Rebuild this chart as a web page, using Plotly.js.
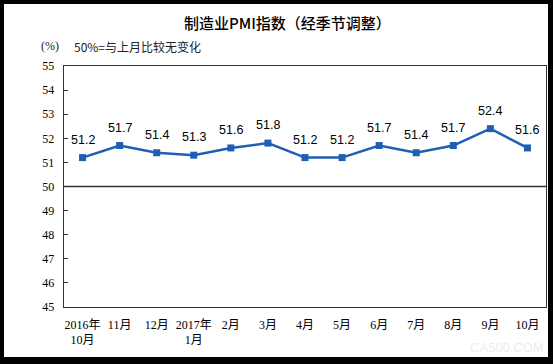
<!DOCTYPE html>
<html>
<head>
<meta charset="utf-8">
<script src="https://cdn.plot.ly/plotly-3.0.1.min.js"></script>
<style>
html,body{margin:0;padding:0;background:#000;width:553px;height:364px;overflow:hidden;}
#chart{position:absolute;left:4px;top:4px;width:544px;height:353px;background:#fff;}
</style>
</head>
<body>
<div id="chart"></div>
<script>
const categories = ["2016年<br>10月","11月","12月","2017年<br>1月","2月","3月","4月","5月","6月","7月","8月","9月","10月"];
const pmiValues = [51.2, 51.7, 51.4, 51.3, 51.6, 51.8, 51.2, 51.2, 51.7, 51.4, 51.7, 52.4, 51.6];
const yTickValues = [45, 46, 47, 48, 49, 50, 51, 52, 53, 54, 55];
const chartTitle = "制造业PMI指数（经季节调整）";
const unitLabel = "(%)";
const noteText = "50%=与上月比较无变化";

const blue = "#1f5fb3";
const serif = "Liberation Serif, 'Times New Roman', 'Noto Sans CJK SC', serif";

const trace = {
  type: "scatter",
  mode: "lines+markers",
  x: categories,
  y: pmiValues,
  line: {color: blue, width: 2.5},
  marker: {color: blue, size: 7, symbol: "square"},
  hoverinfo: "skip"
};

const labelAnnotations = categories.map((c, i) => ({
  x: c, y: pmiValues[i], xref: "x", yref: "y",
  text: pmiValues[i].toFixed(1),
  showarrow: false, yshift: 18,
  font: {family: "Liberation Sans, Arial, sans-serif", size: 12.5, color: "#000"}
}));

const layout = {
  width: 544, height: 353,
  margin: {l: 60, r: 2, t: 62, b: 50},
  paper_bgcolor: "#fff",
  plot_bgcolor: "#fff",
  showlegend: false,
  xaxis: {
    type: "category",
    range: [-0.5, categories.length - 0.5],
    showgrid: false, zeroline: false,
    showline: true, mirror: true, linecolor: "#333", linewidth: 1.3,
    ticks: "",
    tickfont: {family: serif, size: 12, color: "#000"},
    ticklabelstandoff: 6
  },
  yaxis: {
    range: [45, 55],
    tickvals: yTickValues,
    showgrid: false, zeroline: false,
    showline: true, mirror: true, linecolor: "#333", linewidth: 1.3,
    ticks: "inside", ticklen: 4, tickcolor: "#333",
    tickfont: {family: serif, size: 12, color: "#000"},
    ticklabelstandoff: 6
  },
  shapes: [{
    type: "line", xref: "paper", yref: "y", x0: 0, x1: 1, y0: 50, y1: 50,
    line: {color: "#333", width: 1.3}
  }],
  annotations: labelAnnotations.concat([
    {xref: "paper", yref: "paper", x: 0.5, y: 1, xanchor: "center", yanchor: "middle",
     xshift: -18, yshift: 44, showarrow: false, text: chartTitle,
     font: {family: "'Noto Sans CJK SC', sans-serif", size: 15, color: "#000", weight: 500}},
    {xref: "paper", yref: "paper", x: 0, y: 1, xanchor: "center", yanchor: "middle",
     xshift: -14, yshift: 20, showarrow: false, text: unitLabel,
     font: {family: serif, size: 12, color: "#222"}},
    {xref: "paper", yref: "paper", x: 0, y: 1, xanchor: "left", yanchor: "middle",
     xshift: 8, yshift: 20, showarrow: false, text: noteText,
     font: {family: "'Noto Sans CJK SC', sans-serif", size: 12, color: "#222"}},
    {xref: "paper", yref: "paper", x: 1, y: 0, xanchor: "right", yanchor: "middle",
     xshift: 0, yshift: -40, showarrow: false, text: "CA500.COM",
     font: {family: "Liberation Sans, Arial, sans-serif", size: 13, color: "rgba(200,200,200,0.35)"}}
  ])
};

Plotly.newPlot("chart", [trace], layout, {displayModeBar: false, staticPlot: true});
</script>
</body>
</html>
